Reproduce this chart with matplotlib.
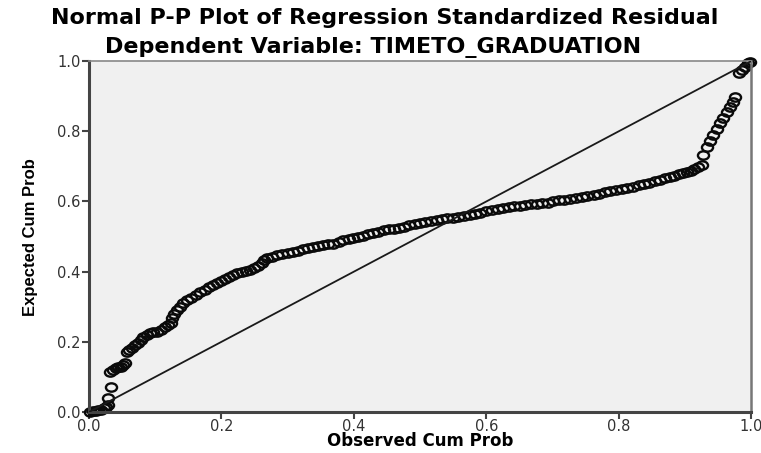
import matplotlib.pyplot as plt
from matplotlib.path import Path
from matplotlib.transforms import Affine2D

plt.rcParams['font.family'] = ['DejaVu Sans']

# observed / expected cumulative probabilities
observed = [0.002, 0.006, 0.010, 0.014, 0.018, 0.022, 0.026, 0.029, 0.029, 0.033,
            0.032, 0.036, 0.040, 0.044, 0.048, 0.052, 0.055,
            0.057, 0.061, 0.065, 0.069, 0.074, 0.078, 0.082, 0.087, 0.092, 0.097,
            0.103, 0.108, 0.114, 0.119, 0.124, 0.125, 0.128, 0.133, 0.137, 0.142,
            0.148, 0.154, 0.161, 0.168, 0.175, 0.181, 0.187, 0.193, 0.199, 0.206,
            0.212, 0.218, 0.224, 0.231, 0.237, 0.243, 0.249, 0.255, 0.261, 0.265,
            0.269, 0.276, 0.284, 0.292, 0.300, 0.308, 0.316, 0.323, 0.330, 0.338,
            0.346, 0.354, 0.361, 0.369, 0.377, 0.384, 0.392, 0.399, 0.407, 0.414,
            0.422, 0.429, 0.437, 0.445, 0.453, 0.461, 0.468, 0.476, 0.484, 0.492,
            0.500, 0.508, 0.516, 0.525, 0.533, 0.541, 0.550, 0.558, 0.566, 0.575,
            0.583, 0.591, 0.600, 0.608, 0.617, 0.626, 0.634, 0.642, 0.651, 0.659,
            0.668, 0.676, 0.684, 0.693, 0.701, 0.710, 0.718, 0.727, 0.735, 0.744,
            0.752, 0.762, 0.770, 0.779, 0.787, 0.796, 0.805, 0.813, 0.821, 0.830,
            0.838, 0.846, 0.855, 0.863, 0.870, 0.877, 0.884, 0.891, 0.897, 0.903,
            0.909, 0.914, 0.920, 0.926,
            0.928, 0.933, 0.938, 0.943, 0.948, 0.953, 0.958, 0.963, 0.968, 0.973,
            0.976, 0.981, 0.986, 0.991, 0.995, 0.999]
expected = [0.000, 0.002, 0.004, 0.005, 0.007, 0.010, 0.014, 0.020, 0.040, 0.071,
            0.114, 0.120, 0.125, 0.127, 0.129, 0.135, 0.140,
            0.172, 0.178, 0.183, 0.190, 0.197, 0.205, 0.213, 0.220, 0.225, 0.227,
            0.229, 0.235, 0.242, 0.248, 0.254, 0.268, 0.278, 0.290, 0.300, 0.310,
            0.318, 0.326, 0.334, 0.342, 0.349, 0.356, 0.362, 0.367, 0.373, 0.379,
            0.385, 0.390, 0.395, 0.399, 0.402, 0.405, 0.410, 0.416, 0.424, 0.432,
            0.439, 0.443, 0.447, 0.450, 0.453, 0.456, 0.460, 0.464, 0.467, 0.470,
            0.473, 0.476, 0.478, 0.480, 0.485, 0.489, 0.493, 0.496, 0.500, 0.503,
            0.507, 0.510, 0.514, 0.518, 0.521, 0.523, 0.525, 0.528, 0.532, 0.536,
            0.539, 0.542, 0.545, 0.547, 0.549, 0.552, 0.554, 0.556, 0.558, 0.561,
            0.564, 0.568, 0.572, 0.575, 0.578, 0.581, 0.584, 0.586, 0.588, 0.590,
            0.592, 0.593, 0.595, 0.597, 0.600, 0.603, 0.605, 0.607, 0.610, 0.613,
            0.615, 0.618, 0.622, 0.626, 0.630, 0.633, 0.636, 0.638, 0.642, 0.646,
            0.650, 0.654, 0.657, 0.661, 0.666, 0.670, 0.674, 0.678, 0.681, 0.684,
            0.688, 0.693, 0.698, 0.704,
            0.732, 0.755, 0.772, 0.789, 0.806, 0.823, 0.838, 0.855, 0.869, 0.883,
            0.897, 0.966, 0.974, 0.983, 0.994, 0.999]

ticks = [0.0, 0.2, 0.4, 0.6, 0.8, 1.0]
tick_labels = ['0.0', '0.2', '0.4', '0.6', '0.8', '1.0']

fig = plt.figure(figsize=(7.61, 4.53), dpi=100)
ax = fig.add_axes([0.117, 0.0905, 0.870, 0.7745])
ax.set_facecolor('#f0f0f0')

# slightly flattened circles, as in the picture
oval = Path.unit_circle().transformed(Affine2D().scale(1.0, 0.75))
ax.plot(observed, expected, linestyle='none', marker=oval, markersize=8,
        markerfacecolor='none', markeredgecolor='#0a0a0a', markeredgewidth=1.7,
        zorder=2, clip_on=False)
ax.plot([0, 1], [0, 1], color='#1a1a1a', lw=1.3, zorder=3)

ax.set_xlim(0, 1)
ax.set_ylim(0, 1)
ax.set_xticks(ticks)
ax.set_xticklabels(tick_labels)
ax.set_yticks(ticks)
ax.set_yticklabels(tick_labels)
ax.tick_params(direction='out', length=5, width=1.5, color='#444444',
               labelsize=10.5, labelcolor='#333333', pad=1)
ax.tick_params(axis='x', pad=0)

ax.spines['left'].set_linewidth(2.2)
ax.spines['left'].set_color('#444444')
ax.spines['bottom'].set_linewidth(2.2)
ax.spines['bottom'].set_color('#444444')
ax.spines['top'].set_linewidth(1.2)
ax.spines['top'].set_color('#888888')
ax.spines['right'].set_linewidth(1.8)
ax.spines['right'].set_color('#777777')

ax.set_xlabel('Observed Cum Prob', fontsize=12, fontweight='bold')
ax.xaxis.set_label_coords(0.5, -0.058)
ax.set_ylabel('Expected Cum Prob', fontsize=12, fontweight='bold', labelpad=14,
              family=['Liberation Sans Narrow', 'Liberation Sans'])

fig.text(0.505, 0.96, 'Normal P-P Plot of Regression Standardized Residual',
         ha='center', va='center', fontsize=16, fontweight='bold')
fig.text(0.49, 0.895, 'Dependent Variable: TIMETO_GRADUATION',
         ha='center', va='center', fontsize=16, fontweight='bold')

fig.savefig('out.png', dpi=100)
